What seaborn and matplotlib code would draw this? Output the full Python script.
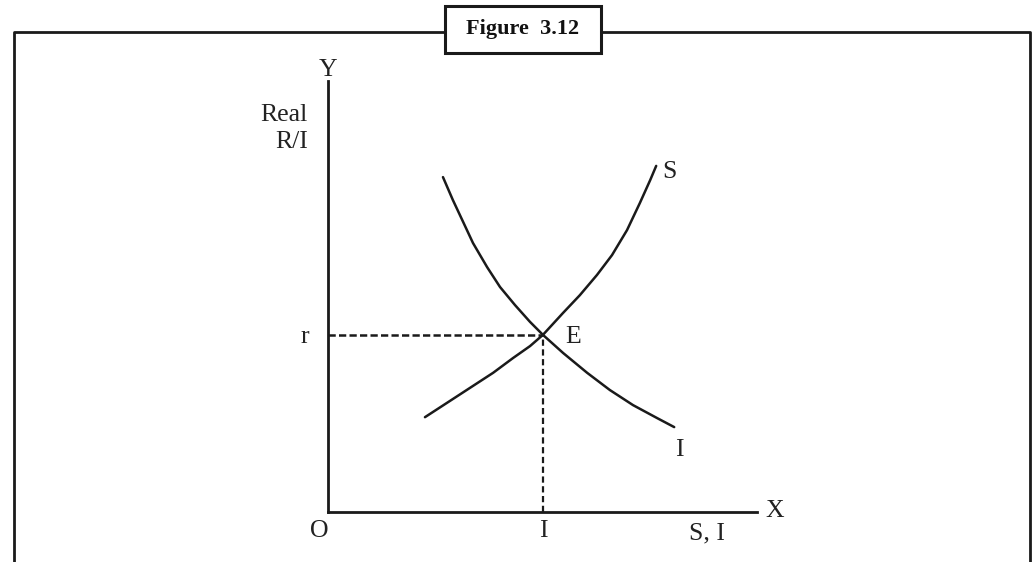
import seaborn as sns
import matplotlib.pyplot as plt
import pandas as pd
from matplotlib.lines import Line2D
from matplotlib.patches import Rectangle

# saving curve S
s_x = [2.26, 2.77, 3.31, 3.85, 4.31, 4.71, 5.01, 5.48, 5.87, 6.27, 6.62, 6.97, 7.27, 7.51, 7.65]
s_y = [2.20, 2.53, 2.88, 3.23, 3.57, 3.85, 4.11, 4.62, 5.03, 5.50, 5.96, 6.54, 7.17, 7.70, 8.03]

# investment curve I
i_x = [2.68, 2.91, 3.15, 3.38, 3.71, 4.01, 4.36, 4.71, 5.01, 5.48, 6.04, 6.57, 7.11, 7.67, 8.07]
i_y = [7.77, 7.24, 6.73, 6.24, 5.68, 5.22, 4.80, 4.41, 4.11, 3.69, 3.23, 2.83, 2.48, 2.18, 1.97]

# equilibrium E
eq_x = 5.01
eq_y = 4.11

sns.set_theme(style="white")
plt.rcParams['font.family'] = ['Liberation Serif', 'DejaVu Serif']

W, H = 1034, 562
fig = plt.figure(figsize=(W / 100, H / 100), dpi=100)

# outer frame and title box
lc = "#1a1a1a"
fig.add_artist(Line2D([14 / W, 14 / W, 1030 / W, 1030 / W], [0, 1 - 32 / H, 1 - 32 / H, 0],
                      transform=fig.transFigure, color=lc, lw=2))
fig.add_artist(Rectangle((445 / W, 1 - 53 / H), 156 / W, 47 / H, transform=fig.transFigure,
                         facecolor="white", edgecolor=lc, lw=2.2, zorder=3))
fig.text(523 / W, 1 - 29 / H, "Figure  3.12", ha="center", va="center", fontsize=16,
         fontweight="bold", color="#111111", zorder=4)

ax = fig.add_axes([328 / W, 50 / H, 429 / W, 431 / H])
ax.patch.set_alpha(0)
ax.set_xlim(0, 10)
ax.set_ylim(0, 10)

df_s = pd.DataFrame({"x": s_x, "y": s_y})
df_i = pd.DataFrame({"x": i_x, "y": i_y})
sns.lineplot(data=df_s, x="x", y="y", sort=False, estimator=None, color=lc, lw=1.8, ax=ax)
sns.lineplot(data=df_i, x="x", y="y", sort=False, estimator=None, color=lc, lw=1.8, ax=ax)

ax.plot([0, eq_x], [eq_y, eq_y], color=lc, lw=1.8, linestyle=(0, (2.9, 1.3)), clip_on=False)
ax.plot([eq_x, eq_x], [0, eq_y], color=lc, lw=1.6, linestyle=(0, (2.8, 1.6)), clip_on=False)

for side in ["top", "right"]:
    ax.spines[side].set_visible(False)
for side in ["left", "bottom"]:
    ax.spines[side].set_color(lc)
    ax.spines[side].set_linewidth(2)
ax.set_xticks([])
ax.set_yticks([])
ax.set_xlabel("")
ax.set_ylabel("")

fs = 18.5
tc = "#222222"
ax.text(0, 10.26, "Y", ha="center", va="center", fontsize=fs, color=tc, clip_on=False)
ax.text(10.2, 0.02, "X", ha="left", va="center", fontsize=fs, color=tc, clip_on=False)
ax.text(-0.47, 9.21, "Real", ha="right", va="center", fontsize=fs, color=tc)
ax.text(-0.47, 8.58, "R/I", ha="right", va="center", fontsize=fs, color=tc)
ax.text(-0.54, eq_y - 0.06, "r", ha="center", va="center", fontsize=fs, color=tc)
ax.text(5.52, eq_y - 0.05, "E", ha="left", va="center", fontsize=fs, color=tc)
ax.text(7.79, 7.89, "S", ha="left", va="center", fontsize=fs, color=tc)
ax.text(8.2, 1.44, "I", ha="center", va="center", fontsize=fs, color=tc)
ax.text(-0.21, -0.43, "O", ha="center", va="center", fontsize=fs, color=tc)
ax.text(eq_x, -0.43, "I", ha="center", va="center", fontsize=fs, color=tc)
ax.text(8.84, -0.5, "S, I", ha="center", va="center", fontsize=fs, color=tc)

fig.savefig("out.png", dpi=100, facecolor="white")
